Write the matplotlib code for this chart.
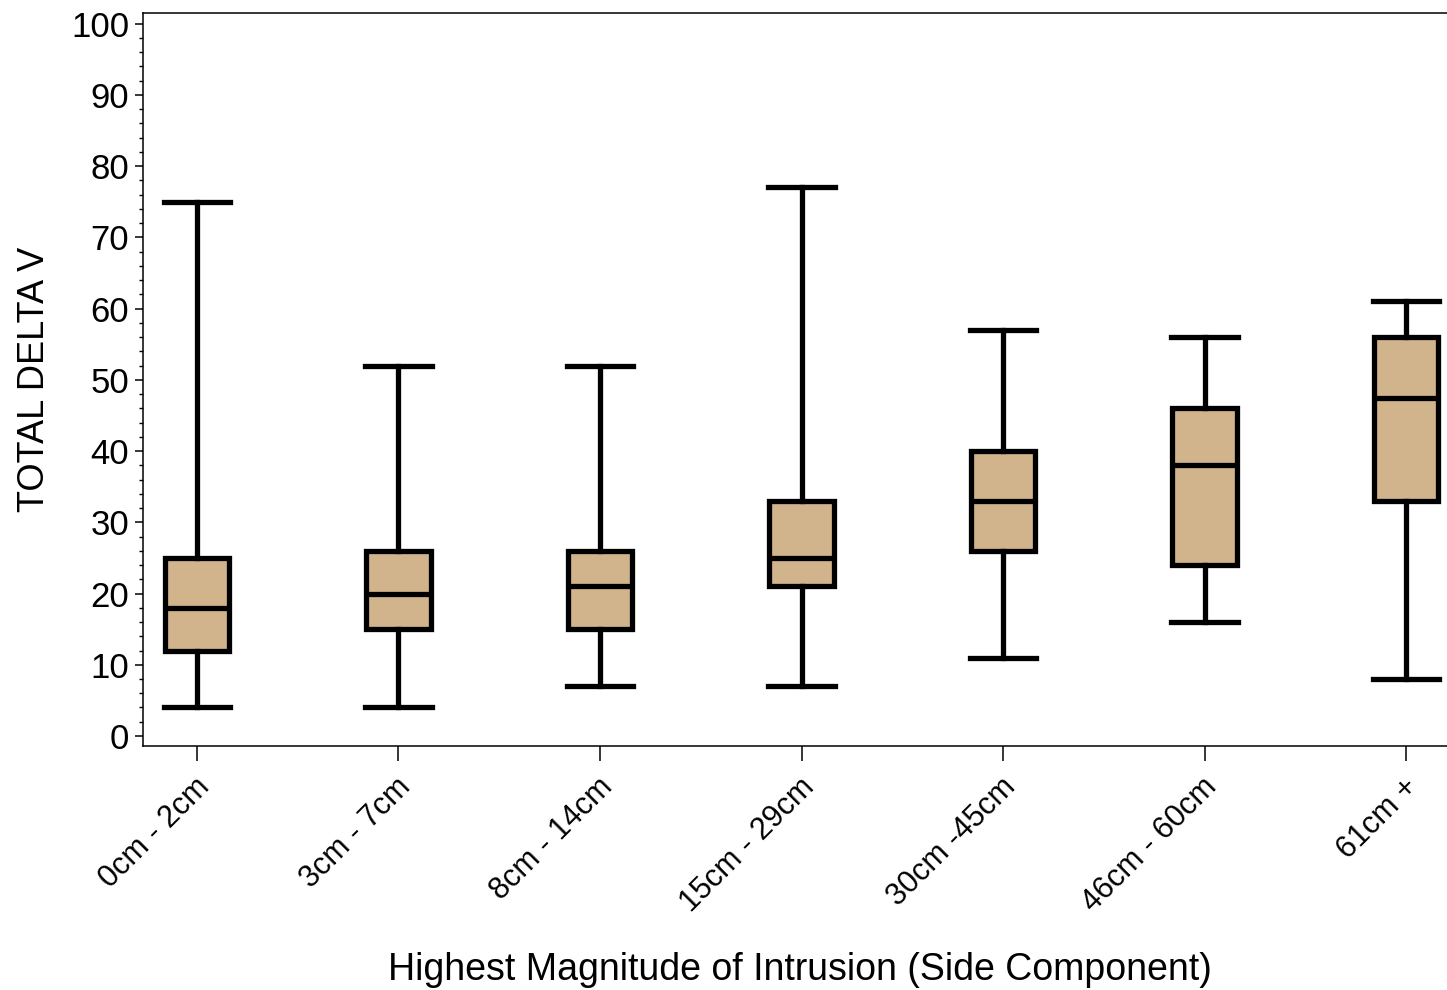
import matplotlib
matplotlib.use("Agg")
import matplotlib.pyplot as plt
import matplotlib.transforms as mtransforms
from matplotlib.ticker import MultipleLocator

plt.rcParams['font.family'] = ['Liberation Sans', 'DejaVu Sans']

categories = ["0cm - 2cm", "3cm - 7cm", "8cm - 14cm", "15cm - 29cm",
              "30cm -45cm", "46cm - 60cm", "61cm +"]
whisker_low = [4, 4, 7, 7, 11, 16, 8]
q1 = [12, 15, 15, 21, 26, 24, 33]
median = [18, 20, 21, 25, 33, 38, 47.5]
q3 = [25, 26, 26, 33, 40, 46, 56]
whisker_high = [75, 52, 52, 77, 57, 56, 61]

fig = plt.figure(figsize=(14.47, 9.9), dpi=100)
ax = fig.add_axes([0.0988, 0.2465, 0.9012, 0.7404])

stats = []
for i, c in enumerate(categories):
    stats.append(dict(label=c, whislo=whisker_low[i], q1=q1[i], med=median[i],
                      q3=q3[i], whishi=whisker_high[i], fliers=[]))

lw = 3.8
ax.bxp(stats, positions=range(len(categories)), widths=0.32, patch_artist=True,
       showfliers=False, capwidths=0.33,
       boxprops=dict(facecolor='#D2B48C', edgecolor='black', linewidth=lw),
       medianprops=dict(color='black', linewidth=lw),
       whiskerprops=dict(color='black', linewidth=lw),
       capprops=dict(color='black', linewidth=lw))

ax.set_xlim(-0.268, 6.203)
ax.set_ylim(-1.4, 101.5)
ax.yaxis.set_major_locator(MultipleLocator(10))
ax.yaxis.set_minor_locator(MultipleLocator(2))

ax.tick_params(axis='y', which='major', length=6, width=1.1, labelsize=25, pad=4)
ax.tick_params(axis='y', which='minor', length=3, width=1.0)
ax.tick_params(axis='x', which='major', length=11, width=1.1, pad=4)
ax.tick_params(axis='x', which='minor', length=0)

ax.set_xticks(range(len(categories)))
ax.set_xticklabels(categories, rotation=45, ha='right', va='center',
                   rotation_mode='anchor', fontsize=22)
offset = mtransforms.ScaledTranslation(8/100, -16/100, fig.dpi_scale_trans)
for lab in ax.get_xticklabels():
    lab.set_transform(lab.get_transform() + offset)

ax.spines['right'].set_visible(False)
for s in ['left', 'bottom', 'top']:
    ax.spines[s].set_linewidth(1.1)

ax.set_ylabel("TOTAL DELTA V", fontsize=26, labelpad=14)
ax.set_xlabel("Highest Magnitude of Intrusion (Side Component)", fontsize=27)
ax.xaxis.label.set_va('center')
ax.xaxis.set_label_coords(0.504, -0.3056)

fig.savefig("out.png", dpi=100)
